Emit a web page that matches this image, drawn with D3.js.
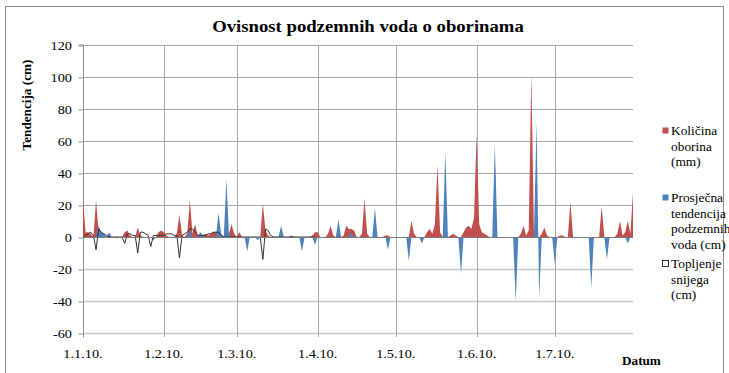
<!DOCTYPE html>
<html>
<head>
<meta charset="utf-8">
<script src="https://cdn.jsdelivr.net/npm/d3@7"></script>
<style>
  body { margin: 0; background: #fff; }
  svg { display: block; }
</style>
</head>
<body>
<svg id="chart" width="729" height="373"></svg>
<script>
// Daily precipitation (mm), one array per month of 2010
const rainJan = [24,3,3,2,0,23,3,2,1,0, 0,0,0,0,0,0,3,4,1,0, 0,6,1,0,0,0,0,0,0,3, 4];
const rainFeb = [3,1,0,0,0,2,14,1,0,2, 23,2,8,1,0,1,2,1,2,3, 3,4,1,0,0,2,8,2];
const rainMar = [0,3,0,0,0,0,0,0,0,0, 21,4,1,0,0,0,0,0,0,0, 0,1,0,0,0,0,0,0,0,1, 3];
const rainApr = [3,0,0,0,2,7,1,0,0,0, 1,7,5,5,4,0,0,2,24,2, 0,0,0,0,0,0,1,1,0,0];
const rainMay = [0,0,0,0,0,0,10,2,0,0, 0,0,3,5,2,8,45,3,0,0, 0,1,2,1,0,0,3,6,7,5, 12];
const rainJun = [64,8,3,2,1,0,0,0,0,0, 0,0,0,0,0,0,0,2,7,1, 4,102,4,0,0,2,6,1,0,0];
const rainJul = [0,0,1,1,0,0,22,0,0,0, 0,0,0,0,0,0,0,0,19,0, 0,0,0,0,2,10,1,3,10,2, 28];

// Daily mean groundwater tendency (cm)
const gwJan = [0,0,0,0,0,0,7,3,2,0, 3,0,0,-1,0,0,0,0,0,0, 0,0,0,0,0,0,0,-2,0,0, 0];
const gwFeb = [0,-1,0,0,0,0,0,0,0,0, 5,0,0,0,3,1,0,0,0,0, 0,15,2,0,36,2,0,0];
const gwMar = [0,0,-1,0,-9,0,0,0,-2,0, 0,0,0,0,0,0,0,7,0,0, 0,0,0,0,0,-9,0,0,0,0, -5];
const gwApr = [0,0,0,0,0,0,0,0,11,0, 0,0,0,3,0,0,0,0,0,0, 0,0,18,0,0,0,0,-8,0,0];
const gwMay = [0,0,0,0,0,-15,0,0,0,0, -4,0,0,0,0,0,0,0,0,53, 0,0,0,0,0,-23,0,0,0,0, 0];
const gwJun = [0,0,0,0,0,0,0,58,0,0, 0,0,0,0,0,-40,0,0,0,0, 0,0,0,72,-38,0,0,0,0,0];
const gwJul = [-17,0,0,0,0,0,0,0,0,0, 0,0,0,0,-32,0,0,0,0,0, -14,0,0,0,0,0,0,0,-4,0, 0];

// Snowmelt (cm), recorded January to March
const snowJan = [0,1,2,3,1,-8,5,3,2,1, 0,0,0,0,0,0,-4,2,2,1, 1,-10,3,3,2,1,-6,1,1,1, 1];
const snowFeb = [1,2,2,2,1,1,-13,1,2,3, 5,5,3,1,1,1,1,2,2,3, 3,3,1,0,0,0,0,0];
const snowMar = [0,0,0,0,0,0,0,0,0,0, -14,5,4,1,0,0,0,0,0,0, 0,0,0,0,0,0,0,0,0,0, 0];

const yTicks = [-60,-40,-20,0,20,40,60,80,100,120];
const monthTicks = ["1.1.10.","1.2.10.","1.3.10.","1.4.10.","1.5.10.","1.6.10.","1.7.10."];
const seriesNames = [["Količina","oborina","(mm)"],["Prosječna","tendencija","podzemnih","voda (cm)"],["Topljenje","snijega","(cm)"]];
const colors = { rain: "#C0504D", gw: "#4F81BD", snow: "#303030" };

const rain = [].concat(rainJan, rainFeb, rainMar, rainApr, rainMay, rainJun, rainJul);
const gw = [].concat(gwJan, gwFeb, gwMar, gwApr, gwMay, gwJun, gwJul);
const snow = [].concat(snowJan, snowFeb, snowMar);

const start = new Date(2010, 0, 1);
const dates = d3.timeDay.range(start, new Date(2010, 7, 1));
const parseTick = d3.timeParse("%d.%m.%y.");

const svg = d3.select("#chart");
const L = 83, R = 633, T = 45, B = 333;
const SERIF = '"Liberation Serif", "Times New Roman", "DejaVu Serif", serif';

const x = d3.scaleTime().domain([dates[0], dates[dates.length - 1]]).range([L, R]);
const y = d3.scaleLinear().domain([-60, 120]).range([B, T]);

function label(g, str, px, py, opts = {}) {
  const sx = opts.sx == null ? 1.1 : opts.sx;
  return g.append("text")
    .attr("transform", `translate(${px},${py}) ${opts.rotate ? "rotate(-90)" : ""} scale(${sx},1)`)
    .attr("text-anchor", opts.anchor || "start")
    .attr("font-family", SERIF)
    .style("font-family", SERIF)
    .style("font-size", (opts.size || 13) + "px")
    .style("font-weight", opts.bold ? "bold" : "normal")
    .style("fill", "#000")
    .text(str);
}

// outer frame
svg.append("rect").attr("x", 5.5).attr("y", 6.5).attr("width", 718).attr("height", 380)
  .attr("fill", "none").attr("stroke", "#8c8c8c").attr("stroke-width", 1);

// grid
const grid = svg.append("g");
grid.selectAll("line.h").data(yTicks.filter(v => v !== 0)).join("line")
  .attr("x1", L).attr("x2", R)
  .attr("y1", d => Math.round(y(d)) + 0.5).attr("y2", d => Math.round(y(d)) + 0.5)
  .attr("stroke", d => d < 0 ? "#c8c8c8" : "#a8a8a8").attr("stroke-width", d => d < 0 ? 1.6 : 1);
grid.selectAll("line.v").data(monthTicks.slice(1)).join("line")
  .attr("x1", d => Math.round(x(parseTick(d))) + 0.5).attr("x2", d => Math.round(x(parseTick(d))) + 0.5)
  .attr("y1", T).attr("y2", B + 4)
  .attr("stroke", "#a8a8a8");

// y axis
const yAxis = svg.append("g").attr("transform", `translate(${L + 0.5},0.5)`)
  .call(d3.axisLeft(y).tickValues(yTicks).tickSize(5).tickPadding(8).tickFormat(d3.format("d")));
yAxis.select(".domain").attr("stroke", "#8c8c8c").attr("d", `M-5,${T - 0.5}H0V${B + 4}`);
yAxis.selectAll(".tick line").attr("stroke", "#8c8c8c");
yAxis.selectAll(".tick text").remove();
yTicks.forEach(v => label(svg, String(v), L - 11, y(v) + 4.5, { anchor: "end", size: 13 }));

// areas
const area = d3.area().x((d, i) => x(dates[i])).y0(y(0)).y1(d => y(d));
svg.append("path").datum(rain).attr("d", area).attr("fill", colors.rain);
svg.append("path").datum(gw).attr("d", area).attr("fill", colors.gw);

// snowmelt line
const line = d3.line().x((d, i) => x(dates[i])).y(d => y(d));
svg.append("path").datum(snow).attr("d", line).attr("fill", "none")
  .attr("stroke", colors.snow).attr("stroke-width", 1);

// zero line
svg.append("line").attr("x1", L).attr("x2", R)
  .attr("y1", Math.round(y(0)) + 0.5).attr("y2", Math.round(y(0)) + 0.5)
  .attr("stroke", "#7a7a7a").attr("stroke-width", 1);

// x labels
monthTicks.forEach(t => label(svg, t, x(parseTick(t)), 358, { anchor: "middle", size: 13 }));

// titles
label(svg, "Ovisnost podzemnih voda o oborinama", 368, 32, { anchor: "middle", size: 17, bold: true });
label(svg, "Tendencija (cm)", 31, 105, { anchor: "middle", size: 12, bold: true, rotate: true });
label(svg, "Datum", 622, 365, { size: 12, bold: true });

// legend
const legend = svg.append("g");
const legendTop = [135, 202, 268];
const legendFill = [colors.rain, colors.gw, "#fff"];
seriesNames.forEach((lines, k) => {
  legend.append("rect").attr("x", 662.5).attr("y", legendTop[k] - 7.5).attr("width", 6).attr("height", 6)
    .attr("fill", legendFill[k]).attr("stroke", k === 2 ? "#000" : "none").attr("stroke-width", 0.8);
  lines.forEach((s, j) => label(legend, s, 671, legendTop[k] + j * 15.5, { size: 13, sx: 1.03 }));
});
</script>
</body>
</html>
